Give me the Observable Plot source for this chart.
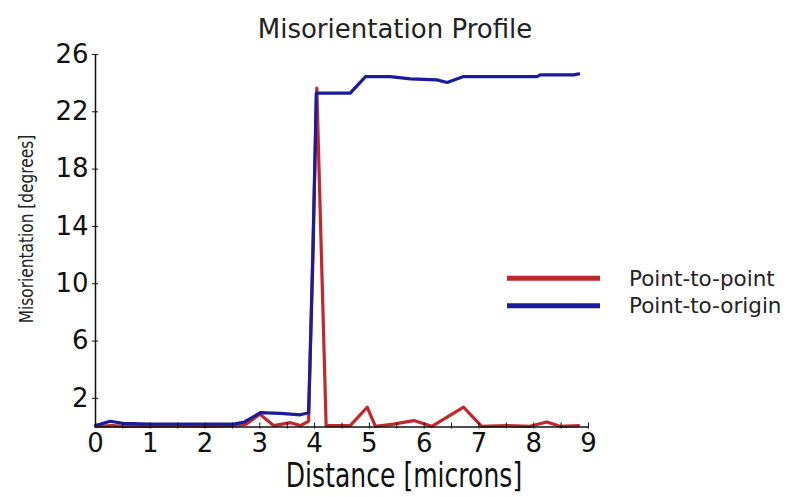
<!DOCTYPE html>
<html><head><meta charset="utf-8">
<script src="https://cdn.jsdelivr.net/npm/d3@7"></script>
<script src="https://cdn.jsdelivr.net/npm/@observablehq/plot@0.6"></script>
<style>
body{margin:0;background:#fff;}
#chart{width:794px;height:497px;}
</style></head>
<body><div id="chart"></div>
<script>
// Point-to-origin series (blue)
const originDist = [0, 0.27, 0.5, 1.0, 1.5, 2.0, 2.52, 2.72, 3.01, 3.38, 3.74, 3.89, 3.97, 4.03, 4.65, 4.93, 5.38, 5.75, 6.23, 6.42, 6.72, 8.06, 8.12, 8.73, 8.82];
const originMis  = [0.1, 0.4, 0.25, 0.2, 0.2, 0.2, 0.2, 0.35, 1.0, 0.95, 0.85, 1.0, 12, 23.3, 23.3, 24.46, 24.46, 24.3, 24.23, 24.05, 24.46, 24.46, 24.58, 24.58, 24.65];
// Point-to-point series (red)
const pointDist = [0, 0.3, 0.5, 1.0, 1.5, 2.0, 2.5, 2.75, 3.0, 3.25, 3.56, 3.74, 3.89, 4.04, 4.21, 4.65, 4.96, 5.11, 5.44, 5.81, 6.14, 6.72, 7.05, 7.51, 7.93, 8.24, 8.48, 8.82];
const pointMis  = [0.05, 0.1, 0.05, 0.05, 0.1, 0.05, 0.1, 0.2, 0.9, 0.1, 0.3, 0.1, 0.4, 23.65, 0.1, 0.1, 1.38, 0.05, 0.2, 0.45, 0.05, 1.38, 0.05, 0.1, 0.05, 0.35, 0.05, 0.1];

const seriesNames = ["Point-to-point", "Point-to-origin"];
const seriesColors = ["#c0282d", "#1b1b9c"];
const yTicks = [2, 6, 10, 14, 18, 22, 26];
const xTicks = [0, 1, 2, 3, 4, 5, 6, 7, 8, 9];
const xMinorTicks = d3.range(0.5, 9.01, 0.5);
const titleText = "Misorientation Profile";
const xLabel = "Distance [microns]";
const yLabel = "Misorientation [degrees]";

const pointData = pointDist.map((d, i) => ({x: d, y: pointMis[i]}));
const originData = originDist.map((d, i) => ({x: d, y: originMis[i]}));

const plot = Plot.plot({
  width: 794, height: 497,
  marginLeft: 95, marginRight: 206, marginTop: 54, marginBottom: 70.5,
  style: {fontFamily: "DejaVu Sans, sans-serif", fontSize: "26px", color: "#111", background: "#fff"},
  x: {domain: [0, 9], label: null},
  y: {domain: [0, 26], label: null},
  marks: [
    Plot.line(pointData, {x: "x", y: "y", stroke: seriesColors[0], strokeWidth: 3.2}),
    Plot.line(originData, {x: "x", y: "y", stroke: seriesColors[1], strokeWidth: 3.2}),
    Plot.ruleX([0], {stroke: "#111", strokeWidth: 1.5}),
    Plot.ruleY([0], {stroke: "#111", strokeWidth: 1.5}),
    Plot.axisX({ticks: xMinorTicks, tickSize: 6, dy: -4, text: null, label: null, stroke: "#111"}),
    Plot.axisX({ticks: xTicks, tickSize: 0, tickPadding: 7, tickFormat: d => String(d), label: null, fill: "#111"}),
    Plot.axisY({ticks: yTicks, tickSize: 6, dx: 3, tickPadding: 4, tickFormat: d => String(d), label: null, fill: "#111"})
  ]
});
document.getElementById("chart").append(plot);

const svg = d3.select(plot);
svg.append("text").attr("x", 395).attr("y", 38)
  .attr("text-anchor", "middle").attr("font-size", 26).attr("fill", "#222")
  .text(titleText);
svg.append("text").attr("transform", "translate(404,487) scale(0.76,1)")
  .attr("text-anchor", "middle").attr("font-size", 33).attr("fill", "#111")
  .text(xLabel);
svg.append("text").attr("transform", "translate(33,229) rotate(-90) scale(0.81,1)")
  .attr("text-anchor", "middle").attr("font-size", 19).attr("fill", "#222")
  .text(yLabel);

const leg = svg.append("g");
seriesNames.forEach((name, i) => {
  const y = 278.3 + i * 27.4;
  leg.append("line").attr("x1", 507).attr("x2", 600).attr("y1", y).attr("y2", y)
    .attr("stroke", seriesColors[i]).attr("stroke-width", 5);
  leg.append("text").attr("x", 629).attr("y", y).attr("dy", "0.36em")
    .attr("text-anchor", "start")
    .attr("font-size", 21.5).attr("fill", "#222").text(name);
});
</script></body></html>
